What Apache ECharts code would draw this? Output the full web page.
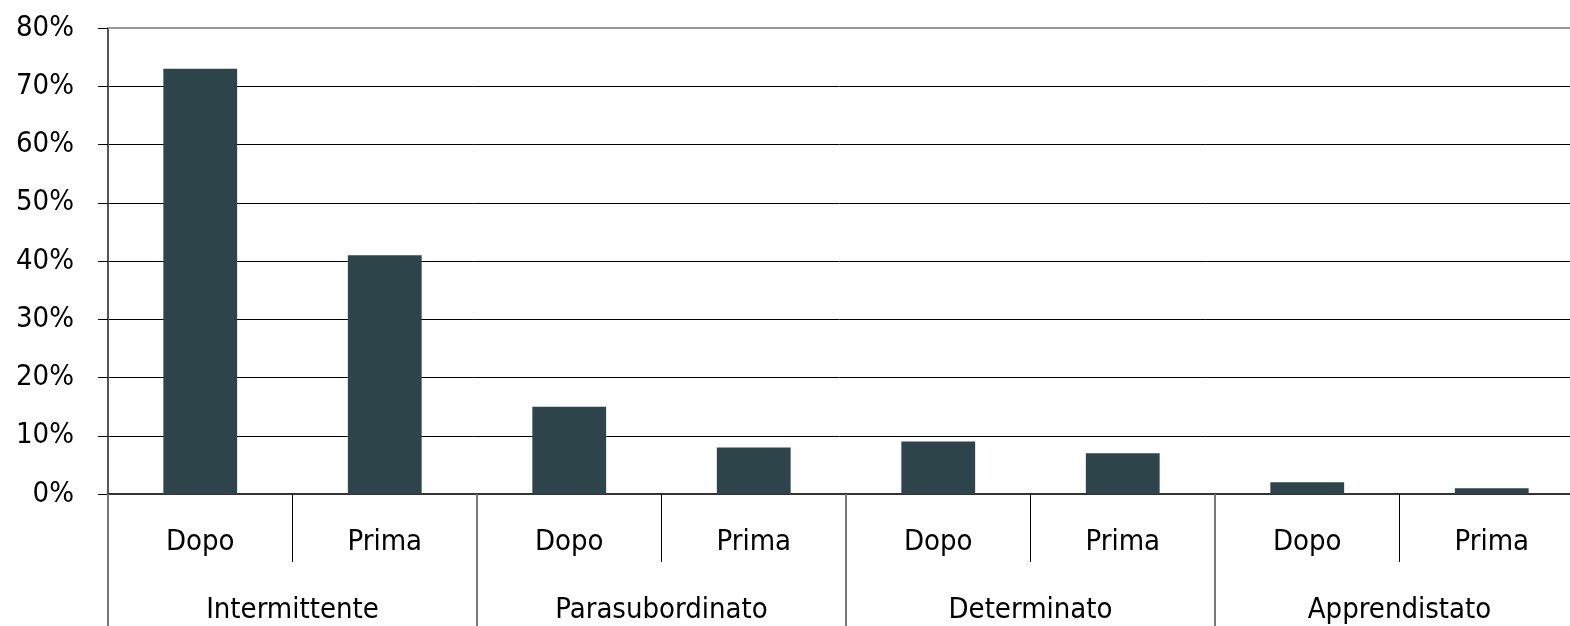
<!DOCTYPE html>
<html>
<head>
<meta charset="utf-8">
<script src="https://cdn.jsdelivr.net/npm/echarts@6/dist/echarts.min.js"></script>
<style>
    html, body { margin: 0; padding: 0; background: #fff; }
    #chart { width: 1570px; height: 626px; }
</style>
</head>
<body>
<div id="chart"></div>
<script>
    // gruppi contrattuali e periodi
    const groups = ['Intermittente', 'Parasubordinato', 'Determinato', 'Apprendistato'];
    const periods = ['Dopo', 'Prima'];
    // valori in percentuale, nell'ordine gruppo x periodo
    const values = [73, 41, 15, 8, 9, 7, 2, 1];
    const yTicks = [0, 10, 20, 30, 40, 50, 60, 70, 80];

    const font = '"DejaVu Sans Condensed", "Liberation Sans Narrow", "Arial Narrow", sans-serif';
    const fontSize = 29;
    const categories = [];
    groups.forEach(g => periods.forEach(p => categories.push(p)));

    const chart = echarts.init(document.getElementById('chart'));
    chart.setOption({
        animation: false,
        // l'area del grafico prosegue oltre il bordo destro
        grid: {left: 108, right: -14, top: 28, bottom: 132, outerBoundsMode: 'none'},
        xAxis: [
            {
                // Dopo / Prima
                type: 'category',
                data: categories,
                position: 'bottom',
                axisLine: {show: true, lineStyle: {color: '#333', width: 2}},
                axisTick: {show: true, length: 68, lineStyle: {color: '#000', width: 1}},
                axisLabel: {color: '#000', fontFamily: font, fontSize: fontSize, margin: 34, interval: 0}
            },
            {
                // gruppi
                type: 'category',
                data: groups,
                position: 'bottom',
                axisLine: {show: false},
                axisTick: {show: true, length: 132, lineStyle: {color: '#777', width: 2}},
                axisLabel: {color: '#000', fontFamily: font, fontSize: fontSize, margin: 102, interval: 0}
            },
            {
                // linea superiore
                type: 'category',
                data: categories,
                position: 'top',
                axisLine: {show: true, lineStyle: {color: '#999', width: 2}},
                axisTick: {show: false},
                axisLabel: {show: false}
            }
        ],
        yAxis: {
            type: 'value',
            min: yTicks[0],
            max: yTicks[yTicks.length - 1],
            interval: 10,
            axisLine: {show: true, lineStyle: {color: '#555', width: 2}},
            axisTick: {show: true, length: 10, lineStyle: {color: '#000'}},
            splitLine: {show: true, lineStyle: {color: '#000', width: 1}},
            axisLabel: {
                color: '#000', fontFamily: font, fontSize: fontSize, margin: 34,
                formatter: v => v + '%'
            }
        },
        series: [{
            type: 'bar',
            xAxisIndex: 0,
            data: values,
            barWidth: '40%',
            itemStyle: {color: '#2c444a'}
        }]
    });
</script>
</body>
</html>
